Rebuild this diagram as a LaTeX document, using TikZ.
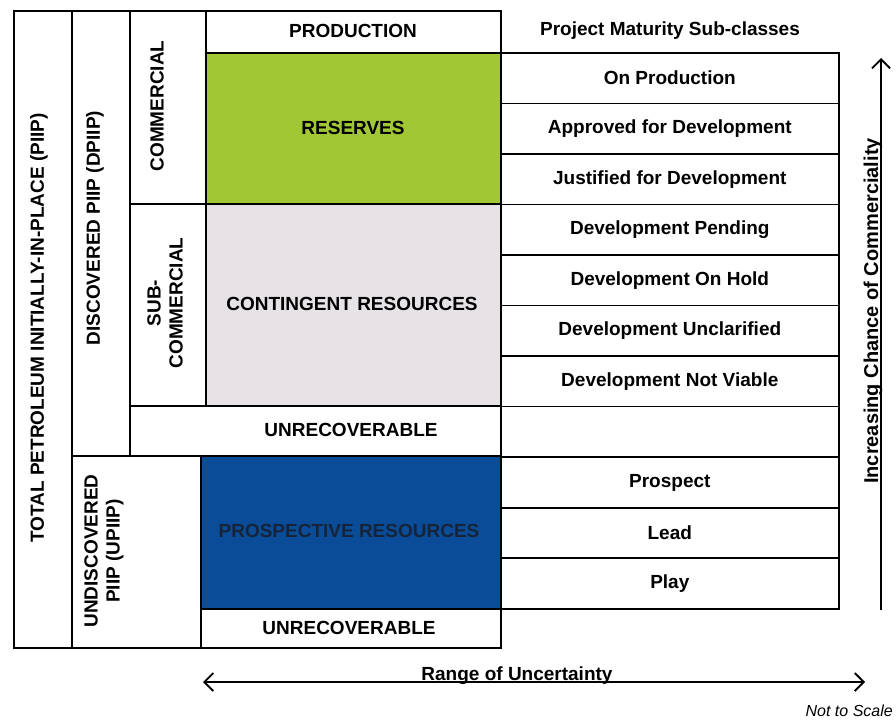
\documentclass[tikz,border=0pt]{standalone}
\usepackage{fontspec}
\setmainfont{Liberation Sans}
\usetikzlibrary{arrows.meta}
\definecolor{resgreen}{RGB}{162,199,52}
\definecolor{congray}{RGB}{231,226,230}
\definecolor{prosblue}{RGB}{10,76,152}
\definecolor{prostext}{RGB}{22,36,58}
\begin{document}
\begin{tikzpicture}[x=1pt,y=-1pt,
  box/.style={draw, line width=1.6pt, inner sep=0pt, anchor=north west},
  lbl/.style={font=\bfseries\fontsize{19}{22}\selectfont, inner sep=0pt, align=center},
  barb/.tip={Straight Barb[length=9pt,width=18pt,line width=1.8pt]},
  arrline/.style={line width=1.6pt}]
\useasboundingbox (0,0) rectangle (896,720);

% left columns
\node[box, minimum width=58pt, minimum height=637pt] (total) at (13,10) {};
\node[box, minimum width=58pt, minimum height=445pt] (disc) at (71,10) {};
\node[box, minimum width=129pt, minimum height=192pt] (undisc) at (71,455) {};
\node[box, minimum width=76pt, minimum height=193pt] (comm) at (129,10) {};
\node[box, minimum width=76pt, minimum height=202pt] (subc) at (129,203) {};

% main boxes
\node[box, minimum width=295pt, minimum height=42pt] (prod) at (205,10) {};
\node[box, fill=resgreen, minimum width=295pt, minimum height=151pt] (res) at (205,52) {};
\node[box, fill=congray, minimum width=295pt, minimum height=202pt] (cont) at (205,203) {};
\node[box, minimum width=371pt, minimum height=50pt] (unrecA) at (129,405) {};
\node[box, fill=prosblue, minimum width=300pt, minimum height=153pt] (pros) at (200,455) {};
\node[box, minimum width=300pt, minimum height=39pt] (unrecB) at (200,608) {};

% right table
\foreach \t [count=\i] in {On Production, Approved for Development, Justified for Development,
  Development Pending, Development On Hold, Development Unclarified, Development Not Viable,
  {}, Prospect, Lead, Play}{
  \node[box, minimum width=338pt, minimum height=50.55pt] (r\i) at (500,{52+50.545*(\i-1)}) {};
  \node[lbl] (rt\i) at (r\i.center) {\t};
}

% labels
\node[lbl, rotate=90] (totallbl) at (39,328) {TOTAL PETROLEUM INITIALLY-IN-PLACE (PIIP)};
\node[lbl, rotate=90] (disclbl) at (95,228) {DISCOVERED PIIP (DPIIP)};
\node[lbl, rotate=90] (undisclbl) at (104,551) {UNDISCOVERED\\PIIP (UPIIP)};
\node[lbl, rotate=90] (commlbl) at (157,106) {COMMERCIAL};
\node[lbl, rotate=90] (subclbl) at (165,303) {SUB-\\COMMERCIAL};
\node[lbl] (prodlbl) at (353,31) {PRODUCTION};
\node[lbl] (reslbl) at (353,128) {RESERVES};
\node[lbl] (contlbl) at (352,304) {CONTINGENT RESOURCES};
\node[lbl] (unrecAlbl) at (351,430) {UNRECOVERABLE};
\node[lbl, text=prostext] (proslbl) at (349,531) {PROSPECTIVE RESOURCES};
\node[lbl] (unrecBlbl) at (349,628) {UNRECOVERABLE};
\node[lbl] (hdr) at (670,31) {Project Maturity Sub-classes};

% arrows
\coordinate (vbot) at (881,610);
\coordinate (vtop) at (881,58);
\draw[arrline, -barb] (vbot) -- (vtop);
\node[lbl, font=\bfseries\fontsize{20}{22}\selectfont, rotate=90, anchor=base] (inc) at (878,311) {Increasing Chance of Commerciality};

\coordinate (hl) at (203,682);
\coordinate (hr) at (865,682);
\draw[arrline, barb-barb] (hl) -- (hr);
\node[lbl, anchor=base] (range) at (517,680.5) {Range of Uncertainty};

\node[font=\itshape\fontsize{16}{18}\selectfont, inner sep=0pt, anchor=east] (nts) at (893,711) {Not to Scale};
\end{tikzpicture}
\end{document}
